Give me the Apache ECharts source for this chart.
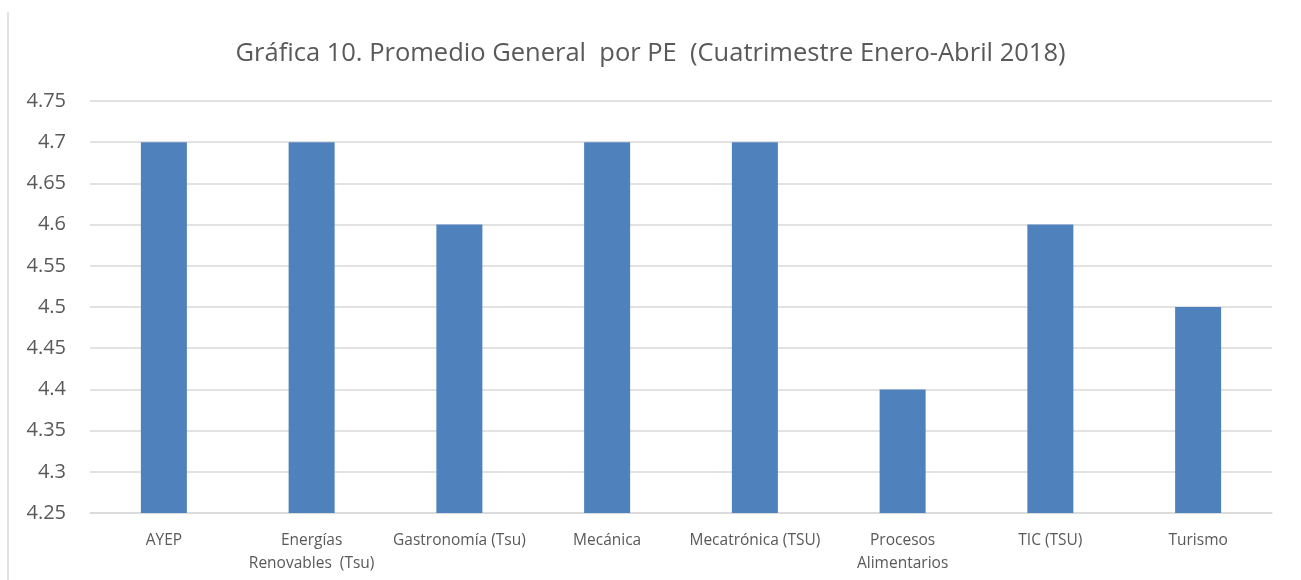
<!DOCTYPE html>
<html><head><meta charset="utf-8">
<script src="https://cdn.jsdelivr.net/npm/echarts@6/dist/echarts.min.js"></script>
<style>html,body{margin:0;padding:0;background:#fff;}#c{width:1301px;height:580px;}</style>
</head><body><div id="c"></div>
<script>
const titleText = 'Gráfica 10. Promedio General  por PE  (Cuatrimestre Enero-Abril 2018)';
const categories = ['AYEP', 'Energías\nRenovables  (Tsu)', 'Gastronomía (Tsu)', 'Mecánica', 'Mecatrónica (TSU)', 'Procesos\nAlimentarios', 'TIC (TSU)', 'Turismo'];
const values = [4.7, 4.7, 4.6, 4.7, 4.7, 4.4, 4.6, 4.5];
const yMin = 4.25, yMax = 4.75, yStep = 0.05;

const chart = echarts.init(document.getElementById('c'));
chart.setOption({
  animation: false,
  title: { text: titleText, left: 'center', top: 36,
    textStyle: { fontFamily: 'Open Sans', fontWeight: 'normal', fontSize: 25.5, color: '#595959' } },
  grid: { left: 90, right: 29, top: 101, bottom: 67 },
  graphic: [{ type: 'line', shape: { x1: 8, y1: 12, x2: 8, y2: 580 }, style: { stroke: '#d9d9d9', lineWidth: 1.5 } }],
  xAxis: { type: 'category', data: categories,
    axisLine: { show: true, lineStyle: { color: '#d9d9d9', width: 1.5 } },
    axisTick: { show: false },
    axisLabel: { color: '#595959', fontFamily: 'Open Sans', fontSize: 15.5, margin: 16, lineHeight: 23, interval: 0 } },
  yAxis: { type: 'value', min: yMin, max: yMax, interval: yStep,
    axisLine: { show: false }, axisTick: { show: false },
    splitLine: { lineStyle: { color: '#d9d9d9', width: 1.5 } },
    axisLabel: { color: '#595959', fontFamily: 'Open Sans', fontSize: 20, margin: 24,
      formatter: v => String(parseFloat(v.toFixed(2))) } },
  series: [{ type: 'bar', data: values, barWidth: 46, itemStyle: { color: '#4f81bd' } }]
});
</script></body></html>
